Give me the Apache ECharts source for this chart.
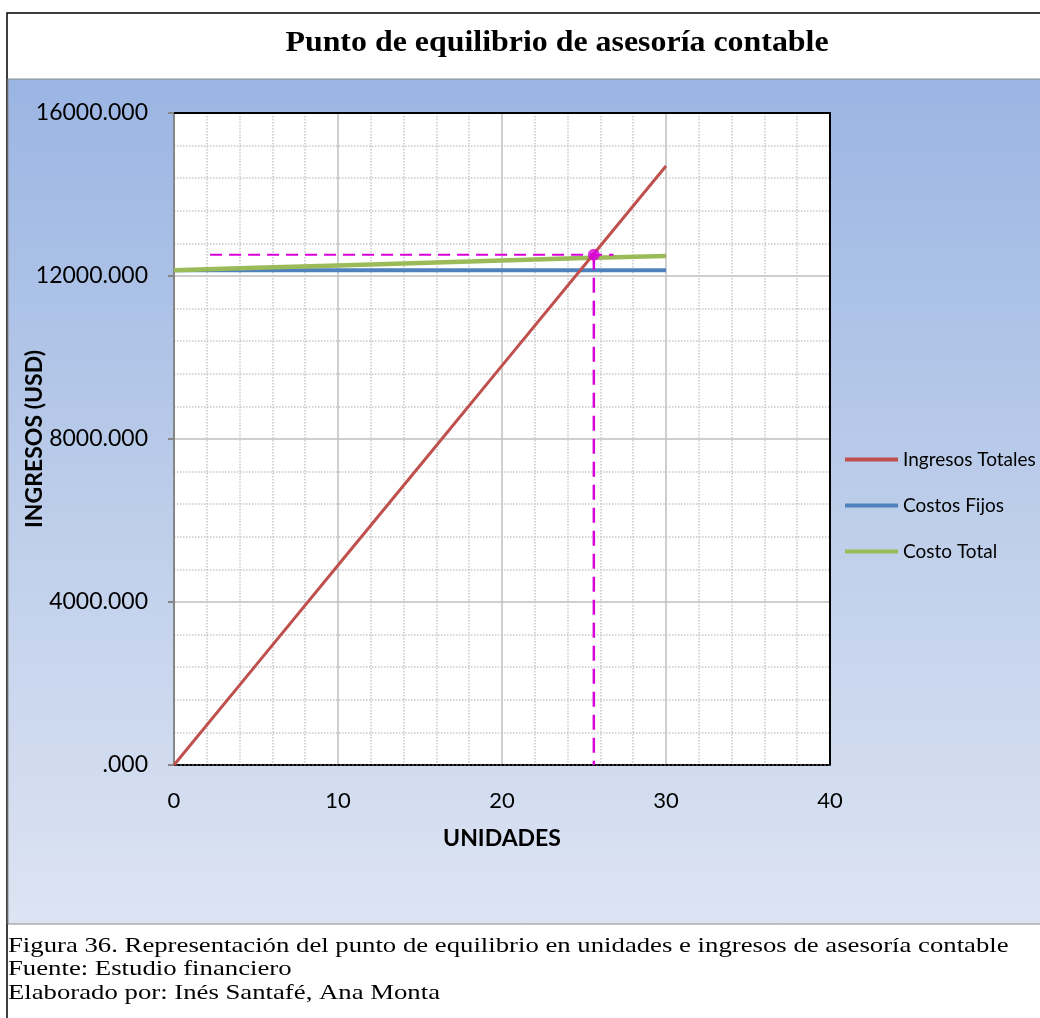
<!DOCTYPE html>
<html>
<head>
<meta charset="utf-8">
<script src="https://cdn.jsdelivr.net/npm/echarts@6/dist/echarts.min.js"></script>
<style>
  html, body { margin: 0; padding: 0; background: #fff; }
  #chart { width: 1040px; height: 1018px; }
</style>
</head>
<body>
<div id="chart"></div>
<script>
// datos
const unidades = [0, 5, 10, 15, 20, 25, 30];
const ingresosTotales = [0, 2450, 4900, 7350, 9800, 12250, 14700];
const costosFijos = [12140, 12140, 12140, 12140, 12140, 12140, 12140];
const costoTotal = [12140, 12200, 12260, 12320, 12380, 12440, 12490];
const puntoEquilibrio = [25.6, 12520];
const guiaHorizontalX = [2.2, 26.8];
const yTickValues = [0, 4000, 8000, 12000, 16000];
const yTickLabels = ['.000', '4000.000', '8000.000', '12000.000', '16000.000'];
const xTickLabels = ['0', '10', '20', '30', '40'];
const seriesNames = ['Ingresos Totales', 'Costos Fijos', 'Costo Total'];
const captionLines = [
  'Figura 36. Representación del punto de equilibrio en unidades e ingresos de asesoría contable',
  'Fuente: Estudio financiero',
  'Elaborado por: Inés Santafé, Ana Monta'
];

const pair = (xs, ys) => xs.map((x, i) => [x, ys[i]]);
const sans = 'Lato';
const magenta = '#D800D8';

const myChart = echarts.init(document.getElementById('chart'));

const options = {
  animation: false,
  textStyle: { fontFamily: sans },
  graphic: [
    {
      type: 'rect', z: -10, silent: true,
      shape: { x: 7, y: 13, width: 1040, height: 1010 },
      style: { fill: '#fff', stroke: '#000', lineWidth: 1.5 }
    },
    {
      type: 'rect', z: -9, silent: true,
      shape: { x: 8, y: 79, width: 1035, height: 845 },
      style: {
        fill: new echarts.graphic.LinearGradient(0, 0, 0, 1, [
          { offset: 0, color: '#9BB5E3' },
          { offset: 0.5, color: '#BCCDEA' },
          { offset: 1, color: '#DDE4F3' }
        ]),
        stroke: '#8C8C8C', lineWidth: 1
      }
    },
    {
      // título
      type: 'text', silent: true,
      x: 557, y: 29, scaleX: 1.1,
      style: {
        text: 'Punto de equilibrio de asesoría contable',
        font: 'bold 29px "Liberation Serif"', fill: '#000',
        align: 'center', verticalAlign: 'top'
      }
    }
  ].concat(captionLines.map((t, i) => ({
    type: 'text', silent: true,
    x: 8, y: 935 + i * 23.5, scaleX: 1.215,
    style: { text: t, font: '22px "Liberation Serif"', fill: '#000', verticalAlign: 'top' }
  }))),
  legend: {
    data: seriesNames.map((n) => ({ name: n, icon: 'rect' })),
    orient: 'vertical',
    left: 845,
    top: 450,
    padding: 0,
    itemWidth: 53,
    itemHeight: 4,
    itemGap: 27,
    textStyle: { fontFamily: sans, fontSize: 19, color: '#000', padding: [0, 0, 0, 0] }
  },
  grid: {
    left: 174, top: 113, width: 656, height: 652,
    outerBoundsMode: 'none', containLabel: false,
    show: true, backgroundColor: '#fff', borderWidth: 0
  },
  xAxis: [
    {
      type: 'value', min: 0, max: 40, interval: 10,
      name: 'UNIDADES', nameLocation: 'middle', nameGap: 62,
      nameTextStyle: { fontFamily: sans, fontWeight: 'bold', fontSize: 23, color: '#000' },
      axisLine: { lineStyle: { color: '#000', type: 'dotted', width: 2 } },
      axisTick: { show: false },
      axisLabel: {
        margin: 25, fontSize: 22, color: '#000',
        formatter: (v) => xTickLabels[v / 10]
      },
      splitLine: { lineStyle: { color: '#BFBFBF', width: 1.5 } },
      minorTick: { show: false, splitNumber: 5 },
      minorSplitLine: { show: true, lineStyle: { color: '#C8C8C8', type: 'dotted', width: 1.5 } }
    },
    {
      type: 'value', min: 0, max: 40, position: 'top',
      axisLine: { show: true, onZero: false, lineStyle: { color: '#000', width: 2 } },
      axisTick: { show: false }, axisLabel: { show: false }, splitLine: { show: false }
    }
  ],
  yAxis: [
    {
      type: 'value', min: 0, max: 16000, interval: 4000,
      name: 'INGRESOS (USD)', nameLocation: 'middle', nameGap: 128, nameRotate: 90,
      nameMoveOverlap: false,
      nameTextStyle: { fontFamily: sans, fontWeight: 'bold', fontSize: 23, color: '#000' },
      axisLine: { show: true, lineStyle: { color: '#868686', width: 2 } },
      axisTick: { show: true, inside: false, length: 6, lineStyle: { color: '#868686', width: 2 } },
      axisLabel: {
        margin: 26, fontSize: 23, color: '#000',
        formatter: (v) => yTickLabels[yTickValues.indexOf(v)]
      },
      splitLine: { lineStyle: { color: '#BFBFBF', width: 1.5 } },
      minorTick: { show: false, splitNumber: 5 },
      minorSplitLine: { show: true, lineStyle: { color: '#C8C8C8', type: 'dotted', width: 1.5 } }
    },
    {
      type: 'value', min: 0, max: 16000, position: 'right',
      axisLine: { show: true, onZero: false, lineStyle: { color: '#000', width: 2 } },
      axisTick: { show: false }, axisLabel: { show: false }, splitLine: { show: false }
    }
  ],
  series: [
    {
      name: 'Costos Fijos', type: 'line', symbol: 'none', z: 3,
      data: pair(unidades, costosFijos),
      lineStyle: { color: '#4F81BD', width: 4 }, itemStyle: { color: '#4F81BD' }
    },
    {
      name: 'Costo Total', type: 'line', symbol: 'none', z: 4,
      data: pair(unidades, costoTotal),
      lineStyle: { color: '#9BBB59', width: 4.5 }, itemStyle: { color: '#9BBB59' }
    },
    {
      name: 'Ingresos Totales', type: 'line', symbol: 'none', z: 5,
      data: pair(unidades, ingresosTotales),
      lineStyle: { color: '#C0504D', width: 3 }, itemStyle: { color: '#C0504D' }
    },
    {
      name: 'guia-h', type: 'line', symbol: 'none', z: 6,
      data: guiaHorizontalX.map((x) => [x, puntoEquilibrio[1]]),
      lineStyle: { color: magenta, width: 2, type: [12, 7] }
    },
    {
      name: 'guia-v', type: 'line', symbol: 'none', z: 6,
      data: [[puntoEquilibrio[0], puntoEquilibrio[1]], [puntoEquilibrio[0], 0]],
      lineStyle: { color: magenta, width: 2.5, type: [15, 8] }
    },
    {
      name: 'Punto de equilibrio', type: 'scatter', z: 7,
      symbolSize: 12,
      data: [puntoEquilibrio],
      itemStyle: { color: magenta }
    }
  ]
};

myChart.setOption(options);
</script>
</body>
</html>
